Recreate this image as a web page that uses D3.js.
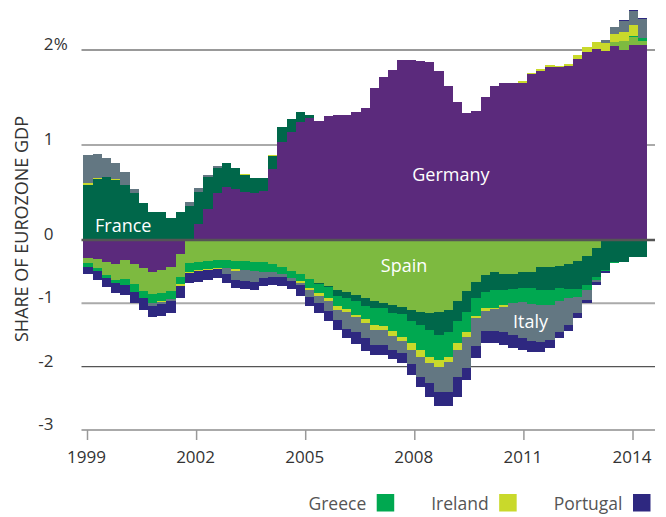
<!DOCTYPE html>
<html><head><meta charset="utf-8">
<script src="https://cdn.jsdelivr.net/npm/d3@7"></script>
<style>body{margin:0;background:#fff}svg{display:block;font-family:"Open Sans",sans-serif}</style>
</head><body><svg id="c" width="666" height="517"></svg>
<script>
// quarterly data, share of eurozone GDP (%)
const quarters = d3.range(61).map(i => `${1999 + Math.floor(i / 4)}Q${i % 4 + 1}`);
const germany = [-0.289,-0.305,-0.352,-0.379,-0.316,-0.379,-0.447,-0.505,-0.474,-0.432,-0.221,0,
  0.168,0.326,0.49,0.555,0.537,0.508,0.49,0.516,0.747,1.035,1.14,1.245,1.287,1.253,1.305,1.316,1.316,
  1.347,1.389,1.6,1.716,1.789,1.895,1.895,1.884,1.874,1.779,1.621,1.453,1.337,1.358,1.505,1.621,1.653,
  1.653,1.653,1.747,1.779,1.821,1.821,1.832,1.905,1.979,2.01,1.989,2.042,2.0,2.053,2.053];
const spain = [-0.079,-0.133,-0.2,-0.253,-0.3,-0.316,-0.358,-0.348,-0.368,-0.374,-0.358,-0.358,-0.352,
  -0.332,-0.316,-0.316,-0.332,-0.337,-0.343,-0.352,-0.379,-0.422,-0.485,-0.532,-0.616,-0.684,-0.722,-0.79,
  -0.825,-0.861,-0.921,-0.961,-0.987,-1.032,-1.062,-1.106,-1.133,-1.158,-1.133,-1.106,-0.964,-0.806,-0.659,
  -0.553,-0.51,-0.542,-0.542,-0.5,-0.5,-0.431,-0.427,-0.411,-0.382,-0.336,-0.253,-0.131,-0.015,0.042,0.095,
  0.087,0.042];
const france = [0.579,0.639,0.663,0.632,0.579,0.495,0.389,0.295,0.295,0.232,0.295,0.358,0.337,0.34,0.263,
  0.258,0.22,0.178,0.162,0.136,0.14,0.155,0.137,0.102,0.028,-0.016,-0.024,-0.1,-0.084,-0.107,-0.114,-0.106,
  -0.092,-0.114,-0.111,-0.174,-0.21,-0.264,-0.368,-0.343,-0.316,-0.327,-0.253,-0.273,-0.28,-0.248,-0.232,
  -0.262,-0.262,-0.359,-0.368,-0.348,-0.395,-0.43,-0.458,-0.449,-0.453,-0.343,-0.343,-0.273,-0.264];
const greece = [-0.053,-0.052,-0.042,-0.053,-0.095,-0.121,-0.116,-0.137,-0.116,-0.132,-0.12,-0.142,-0.121,
  -0.126,-0.126,-0.131,-0.126,-0.137,-0.147,-0.148,-0.126,-0.115,-0.12,-0.118,-0.134,-0.137,-0.171,-0.145,
  -0.179,-0.212,-0.213,-0.276,-0.28,-0.292,-0.355,-0.352,-0.395,-0.422,-0.395,-0.395,-0.348,-0.316,-0.289,
  -0.243,-0.28,-0.237,-0.226,-0.212,-0.253,-0.237,-0.227,-0.209,-0.131,-0.13,-0.074,-0.052,-0.027,-0.016,0,
  0.01,0.032];
const ireland = [0.024,0.011,0,0.01,0,0,0,0,-0.021,0,-0.02,-0.016,-0.016,-0.016,-0.016,0,-0.027,0.01,0,0,
  0.01,0,0,-0.028,-0.047,-0.047,-0.052,-0.063,-0.046,-0.036,-0.068,-0.074,-0.063,-0.071,-0.071,-0.106,-0.106,
  -0.104,-0.106,-0.079,-0.111,-0.079,-0.036,-0.052,-0.021,-0.027,0,0.021,0.01,0.021,0.021,0.01,0.021,0.042,
  0.053,0.074,0.084,0.084,0.095,0.116,0];
const italy = [0.29,0.256,0.197,0.165,0.134,0.042,0,-0.053,-0.032,-0.032,0,0.042,0.042,0.02,0.024,-0.09,
  -0.147,-0.169,-0.169,-0.1,-0.074,-0.05,-0.043,-0.04,-0.098,-0.115,-0.158,-0.166,-0.273,-0.232,-0.237,-0.242,
  -0.237,-0.229,-0.19,-0.221,-0.316,-0.316,-0.395,-0.474,-0.427,-0.5,-0.433,-0.316,-0.348,-0.395,-0.5,-0.569,
  -0.58,-0.58,-0.558,-0.482,-0.434,-0.262,-0.163,-0.032,0.032,0.074,0.116,0.147,0.2];
const portugal = [-0.12,-0.142,-0.152,-0.158,-0.163,-0.174,-0.184,-0.168,-0.19,-0.19,-0.2,-0.167,-0.168,
  -0.158,-0.147,-0.137,-0.131,-0.131,-0.131,-0.134,-0.131,-0.139,-0.123,-0.166,-0.153,-0.158,-0.156,-0.158,
  -0.147,-0.194,-0.2,-0.153,-0.158,-0.142,-0.148,-0.174,-0.158,-0.212,-0.226,-0.226,-0.311,-0.185,-0.19,
  -0.194,-0.194,-0.21,-0.2,-0.194,-0.179,-0.169,-0.131,-0.104,-0.095,-0.071,-0.047,-0.047,-0.021,0,0.007,
  0.01,0.01];

const seriesNames = ["Germany","Spain","France","Greece","Ireland","Italy","Portugal"];
const seriesValues = [germany, spain, france, greece, ireland, italy, portugal];
const seriesColors = ["#5b2a7c","#7dba40","#00674a","#00a850","#c9d92b","#637782","#2e2880"];
const yTicks = [2, 1, 0, -1, -2, -3];
const yTickLabels = ["2", "1", "0", "-1", "-2", "-3"];
const xTickYears = [1999, 2002, 2005, 2008, 2011, 2014];
const legendNames = ["Greece", "Ireland", "Portugal"];
const inlineLabels = [
  {name: "France", q: 1.27, v: 0.084},
  {name: "Germany", q: 35.6, v: 0.62},
  {name: "Spain", q: 32.2, v: -0.505},
  {name: "Italy", q: 46.5, v: -1.39}
];

const table = quarters.map((q, i) => {
  const row = {q, i};
  seriesNames.forEach((n, k) => row[n] = seriesValues[k][i]);
  return row;
});
const color = d3.scaleOrdinal().domain(seriesNames).range(seriesColors);

const svg = d3.select("#c");
const x = d3.scaleLinear().domain([0, quarters.length]).range([83.3, 647]);
const xYear = d3.scaleLinear().domain([1999, 2014]).range([87.5, 633]);
const y = d3.scaleLinear().domain([-3, 0, 2]).range([430, 240, 50]);
const gridX0 = 81.5, gridX1 = 655;

const gridStyle = v => v === -2 ? {c: "#555", w: 1.3} : v === 2 ? {c: "#999", w: 2} : {c: "#aaa", w: 2};

// gridlines behind
svg.append("g").selectAll("line").data(yTicks.filter(v => v !== 0)).join("line")
  .attr("x1", gridX0).attr("x2", gridX1)
  .attr("y1", d => y(d)).attr("y2", d => y(d))
  .attr("stroke", d => gridStyle(d).c).attr("stroke-width", d => gridStyle(d).w);

// x ticks
svg.append("g").selectAll("line").data(xTickYears).join("line")
  .attr("x1", d => xYear(d)).attr("x2", d => xYear(d))
  .attr("y1", y(-3)).attr("y2", y(-3) + 10)
  .attr("stroke", "#999").attr("stroke-width", 1.5);

// stacked step areas
const stack = d3.stack().keys(seriesNames).order(d3.stackOrderNone).offset(d3.stackOffsetDiverging);
const layers = stack(table);
const area = d3.area().x(p => p.x).y0(p => y(p.y0)).y1(p => y(p.y1));
svg.append("g").selectAll("path").data(layers).join("path")
  .attr("d", L => area(L.flatMap((d, i) => [
    {x: x(i), y0: d[0], y1: d[1]}, {x: x(i + 1), y0: d[0], y1: d[1]}
  ])))
  .attr("fill", L => color(L.key))
  .attr("shape-rendering", "crispEdges");

// zero line on top
svg.append("line").attr("x1", gridX0).attr("x2", gridX1)
  .attr("y1", y(0)).attr("y2", y(0)).attr("stroke", "#555").attr("stroke-width", 2.5);

// y labels
const yl = svg.append("g").attr("fill", "#333").style("font-size", "17px");
yl.selectAll("text").data(yTicks).join("text")
  .attr("x", 53.5).attr("y", d => y(d)).attr("text-anchor", "end")
  .text((d, i) => yTickLabels[i]);
yl.append("text").attr("x", 53.8).attr("y", y(2)).text("%");

// x labels
svg.append("g").attr("fill", "#333").style("font-size", "17px")
  .selectAll("text").data(xTickYears).join("text")
  .attr("x", d => xYear(d) - 1).attr("y", 463).attr("text-anchor", "middle").text(d => d);

// axis title
svg.append("text").attr("transform", "translate(27.5,229) rotate(-90)")
  .attr("text-anchor", "middle").attr("fill", "#333").style("font-size", "18px")
  .text("SHARE OF EUROZONE GDP");

// inline labels
svg.append("g").attr("fill", "#fff").style("font-size", "18px")
  .selectAll("text").data(inlineLabels).join("text")
  .attr("x", d => x(d.q)).attr("y", d => y(d.v)).text(d => d.name);

// legend, flowing right-to-left
const lg = svg.append("g").style("font-size", "17.5px");
let right = 650.5;
legendNames.slice().reverse().forEach(n => {
  const sq = 17.5;
  lg.append("rect").attr("x", right - sq).attr("y", 494).attr("width", sq).attr("height", sq)
    .attr("fill", color(n));
  const t = lg.append("text").attr("x", right - sq - 10.5).attr("y", 510)
    .attr("text-anchor", "end").attr("fill", "#555").text(n);
  const w = t.node().getComputedTextLength();
  right = right - sq - 10.5 - w - 37;
});
</script></body></html>
